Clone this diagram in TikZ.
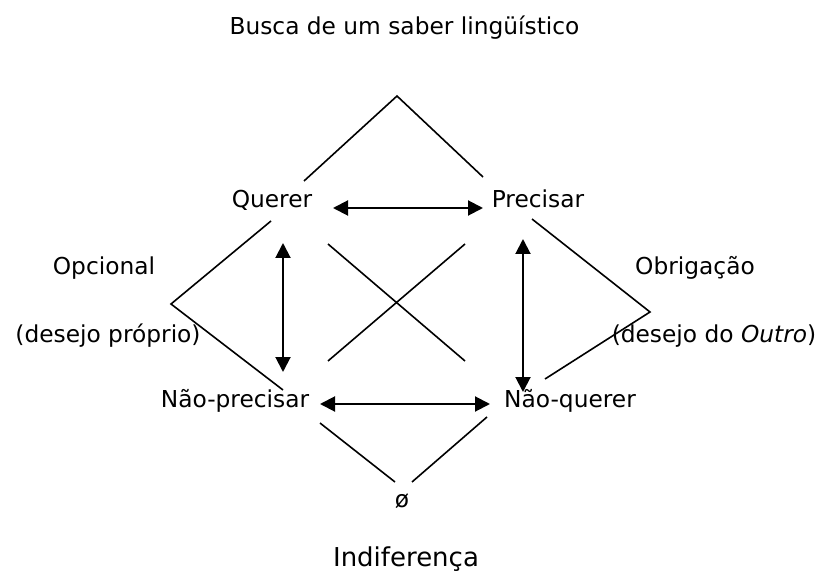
\documentclass[tikz,border=0pt]{standalone}
\usepackage{fontspec}
\setmainfont{DejaVu Sans}
\usetikzlibrary{arrows.meta}
\begin{document}
\begin{tikzpicture}[x=1pt,y=-1pt,
  lbl/.style={anchor=base,inner sep=0pt,font=\fontsize{23.3}{28}\selectfont},
  big/.style={anchor=base,inner sep=0pt,font=\fontsize{26}{31}\selectfont},
  ln/.style={line width=1.6pt},
  dbl/.style={line width=2pt,{Triangle[length=15pt,width=15pt]}-{Triangle[length=15pt,width=15pt]}}]
\useasboundingbox (0,0) rectangle (823,575);
% texts
\node[lbl] (title) at (404.5,35) {Busca de um saber lingüístico};
\node[lbl] (querer) at (272,208) {Querer};
\node[lbl] (precisar) at (538,208) {Precisar};
\node[lbl] (opc) at (104,275) {Opcional};
\node[lbl] (dp) at (108,342) {(desejo próprio)};
\node[lbl] (obr) at (695,275) {Obrigação};
\node[lbl] (dO) at (714,342) {(desejo do \textit{Outro})};
\node[lbl] (np) at (235,407) {Não-precisar};
\node[lbl] (nq) at (570,407) {Não-querer};
\node[lbl] (vazio) at (402,507) {ø};
\node[big] (indif) at (406,566) {Indiferença};
% coordinates
\coordinate (top) at (397,96);
\coordinate (tl) at (304,181);
\coordinate (tr) at (483,177);
\coordinate (lv) at (171,304);
\coordinate (lu) at (271,221);
\coordinate (ld) at (283,390);
\coordinate (rv) at (650,312);
\coordinate (ru) at (532,219);
\coordinate (rd) at (545,379);
\coordinate (x1) at (328,244);
\coordinate (x2) at (465,361);
\coordinate (x3) at (328,361);
\coordinate (x4) at (465,244);
\coordinate (bl) at (320,423);
\coordinate (bla) at (395,482);
\coordinate (br) at (487,417);
\coordinate (bra) at (412,482);
\coordinate (aQ) at (333,208);
\coordinate (aP) at (483,208);
\coordinate (aNP) at (320,404);
\coordinate (aNQ) at (490,404);
\coordinate (vl1) at (283,243);
\coordinate (vl2) at (283,372);
\coordinate (vr1) at (523,239);
\coordinate (vr2) at (523,392);
% lines
\draw[ln] (tl) -- (top) -- (tr);
\draw[ln] (lu) -- (lv) -- (ld);
\draw[ln] (ru) -- (rv) -- (rd);
\draw[ln] (x1) -- (x2);
\draw[ln] (x3) -- (x4);
\draw[ln] (bl) -- (bla);
\draw[ln] (br) -- (bra);
% arrows
\draw[dbl] (aQ) -- (aP);
\draw[dbl] (aNP) -- (aNQ);
\draw[dbl] (vl1) -- (vl2);
\draw[dbl] (vr1) -- (vr2);
\end{tikzpicture}
\end{document}
